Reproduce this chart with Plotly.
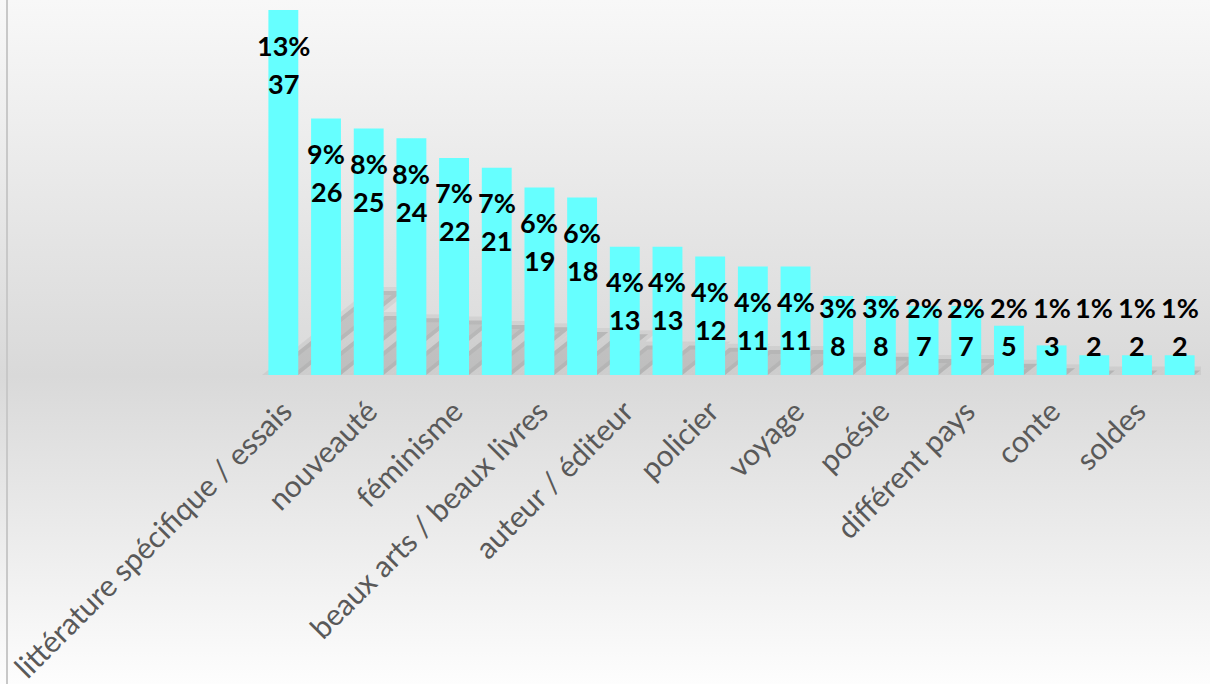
import base64
import plotly.graph_objects as go

# ---- data ----
labels = ["littérature spécifique / essais", "", "nouveauté", "", "féminisme", "",
          "beaux arts / beaux livres", "", "auteur / éditeur", "", "policier", "",
          "voyage", "", "poésie", "", "différent pays", "", "conte", "", "soldes", ""]
values = [37, 26, 25, 24, 22, 21, 19, 18, 13, 13, 12, 11, 11, 8, 8, 7, 7, 5, 3, 2, 2, 2]
percents = ["13%", "9%", "8%", "8%", "7%", "7%", "6%", "6%", "4%", "4%", "4%", "4%",
            "4%", "3%", "3%", "2%", "2%", "2%", "1%", "1%", "1%", "1%"]

W, H = 1210, 684
ML, MR, MT, MB = 262, 9, 10, 309
PW, PH = W - ML - MR, H - MT - MB
Y_MAX = 37
N = len(values)

BAR_COLOR = "#66FFFF"
LABEL_FONT = "Lato"
BARGAP = 0.3
MIN_LABEL_Y = 10.4  # labels of short bars stay inside the plot (clamped like Excel)

# perspective shadow style (Excel-like "diagonal upper right")
SH_HEIGHT = 0.23   # shadow height as a fraction of bar height
SH_SLOPE = 0.8     # rise (px) per px of run
px_x = PW / N
px_y = PH / Y_MAX

x_idx = list(range(N))

fig = go.Figure()
fig.add_trace(go.Bar(
    x=x_idx, y=values,
    marker=dict(color=BAR_COLOR, line=dict(width=0)),
    hoverinfo="skip", showlegend=False,
))

# vertical gradient background (SVG data URI)
svg = ('<svg xmlns="http://www.w3.org/2000/svg" width="10" height="100" preserveAspectRatio="none">'
       '<defs><linearGradient id="g" x1="0" y1="0" x2="0" y2="1">'
       '<stop offset="0" stop-color="#f8f8f8"/>'
       '<stop offset="0.55" stop-color="#d9d9d9"/>'
       '<stop offset="1" stop-color="#fdfdfd"/>'
       '</linearGradient></defs><rect width="10" height="100" fill="url(#g)"/></svg>')
uri = "data:image/svg+xml;base64," + base64.b64encode(svg.encode()).decode()

shapes = [dict(type="line", xref="paper", yref="paper",
               x0=-(ML - 7) / PW, x1=-(ML - 7) / PW, y0=-MB / PH, y1=1 + MT / PH,
               line=dict(color="#c8c8c8", width=2))]

# shadows, derived from bar values, drawn below the bars
half = (1 - BARGAP) / 2
for i, v in enumerate(values):
    t = SH_HEIGHT * v
    d = (t * px_y / SH_SLOPE) / px_x
    xl, xr = i - half, i + half
    path = f"M {xl},0 L {xr},0 L {xr + d},{t} L {xl + d},{t} Z"
    shapes.append(dict(type="path", xref="x", yref="y", path=path, layer="below",
                       fillcolor="rgba(0,0,0,0.12)",
                       line=dict(color="rgba(0,0,0,0.05)", width=8)))

annotations = []
for i, (v, p) in enumerate(zip(values, percents)):
    ya = max(v, MIN_LABEL_Y)
    annotations.append(dict(x=i, y=ya, xref="x", yref="y", text=p, showarrow=False,
                            yanchor="middle", yshift=-35,
                            font=dict(family=LABEL_FONT, size=27, color="#000000", weight="bold")))
    annotations.append(dict(x=i, y=ya, xref="x", yref="y", text=str(v), showarrow=False,
                            yanchor="middle", yshift=-73,
                            font=dict(family=LABEL_FONT, size=27, color="#000000", weight="bold")))

tickvals = [i for i, t in enumerate(labels) if t]
ticktext = [t for t in labels if t]

fig.update_layout(
    width=W, height=H,
    margin=dict(l=ML, r=MR, t=MT, b=MB, pad=0, autoexpand=False),
    paper_bgcolor="#ececec", plot_bgcolor="rgba(0,0,0,0)",
    bargap=BARGAP, showlegend=False,
    annotations=annotations,
    images=[dict(source=uri, xref="paper", yref="paper",
                 x=-ML / PW, y=1 + MT / PH, sizex=W / PW, sizey=H / PH,
                 xanchor="left", yanchor="top", sizing="stretch", layer="below")],
    shapes=shapes,
    xaxis=dict(tickmode="array", tickvals=tickvals, ticktext=ticktext, tickangle=-45,
               range=[-0.5, N - 0.5], showgrid=False, zeroline=False, automargin=False,
               showline=False, ticks="", ticklabelstandoff=12,
               tickfont=dict(family=LABEL_FONT, size=30, color="#595959")),
    yaxis=dict(range=[0, Y_MAX], visible=False, showgrid=False, zeroline=False,
               automargin=False),
)

fig.write_html("out.html", config={"displayModeBar": False},
               post_script="document.body.style.margin='0';")
